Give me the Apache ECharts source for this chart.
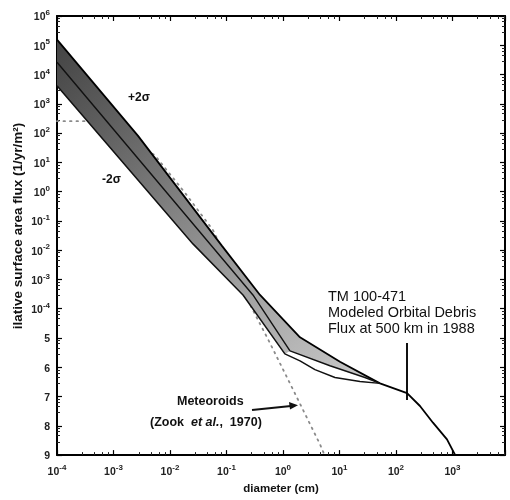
<!DOCTYPE html>
<html><head><meta charset="utf-8">
<script src="https://cdn.jsdelivr.net/npm/echarts@6/dist/echarts.min.js"></script>
<style>html,body{margin:0;padding:0;background:#fff}#c{width:510px;height:500px}</style>
</head><body><div id="c"></div>
<script>
// ---- data (diameter in cm, cumulative flux in 1/yr/m^2) ----
const upperD = [1e-4, 2.72e-3, 0.0832, 0.392, 2.0, 10.2, 52.1];
const upperF = [1.55e5, 80.5, 0.01406, 2.95e-4, 1.06e-5, 1.54e-6, 2.82e-7];
const middleD = [1e-4, 0.294, 1.33, 6.79, 28.2, 52.1];
const middleF = [2.63e4, 2.95e-4, 3.61e-6, 1.13e-6, 4.48e-7, 2.82e-7];
const lowerD = [1e-4, 0.0255, 0.196, 1.08, 2.0, 3.68, 8.32, 23.1, 52.1];
const lowerF = [4.14e3, 0.0164, 2.95e-4, 2.86e-6, 1.66e-6, 8.30e-7, 4.48e-7, 3.29e-7, 2.82e-7];
const tailD = [52.1, 157, 266, 452, 800, 1150];
const tailF = [2.82e-7, 1.30e-7, 4.76e-8, 1.28e-8, 3.44e-9, 9.0e-10];
const meteorD = [1e-4, 3.84e-4, 1.30e-3, 5.43e-3, 0.0184, 0.0577, 0.173, 0.543, 1.33, 4.52, 6.03];
const meteorF = [256, 256, 110, 17.2, 0.912, 0.0484, 6.38e-4, 9.12e-6, 2.82e-7, 2.34e-9, 6.3e-10];

const xTickExp = [-4, -3, -2, -1, 0, 1, 2, 3];
const xTickLabels = ['10^-4', '10^-3', '10^-2', '10^-1', '10^0', '10^1', '10^2', '10^3'];
const yTickExp = [6, 5, 4, 3, 2, 1, 0, -1, -2, -3, -4, -5, -6, -7, -8, -9];
const yTickLabels = ['10^6', '10^5', '10^4', '10^3', '10^2', '10^1', '10^0', '10^-1', '10^-2', '10^-3', '10^-4', '5', '6', '7', '8', '9'];

const zip = (a, b) => a.map((v, i) => [v, b[i]]);
const upper = zip(upperD, upperF);
const middle = zip(middleD, middleF);
const lower = zip(lowerD, lowerF);
const tail = zip(tailD, tailF);
const meteor = zip(meteorD, meteorF);

// band polygon: upper edge, then back along middle (after knee) and lower (before knee)
const kneeMid = 2, kneeLow = 3;
const band = upper.concat(middle.slice(kneeMid, middle.length - 1).reverse(), lower.slice(0, kneeLow + 1).reverse());

function toRich(s) {
  const k = s.indexOf('^');
  return k < 0 ? '{b|' + s + '}' : '{b|' + s.slice(0, k) + '}{s|' + s.slice(k + 1) + '}';
}
function labelFrom(exps, labels) {
  return function (v) {
    const e = Math.log10(v), n = Math.round(e);
    if (Math.abs(e - n) > 0.01) return '';
    const i = exps.indexOf(n);
    return i < 0 ? '' : toRich(labels[i]);
  };
}
const FONT = 'Liberation Sans';
const richLab = {
  b: { fontFamily: FONT, fontSize: 10.5, fontWeight: 'bold', color: '#222', lineHeight: 14, verticalAlign: 'bottom' },
  s: { fontFamily: FONT, fontSize: 8, fontWeight: 'bold', color: '#222', lineHeight: 8, verticalAlign: 'top' }
};
const axisCommon = {
  type: 'log', logBase: 10,
  axisLine: { show: true, onZero: false, lineStyle: { color: '#000', width: 2 } },
  axisTick: { show: true, inside: true, length: 5, lineStyle: { color: '#000', width: 1.2 } },
  minorTick: { show: true, splitNumber: 5, length: 3, lineStyle: { color: '#222' } },
  splitLine: { show: false },
};
const chart = echarts.init(document.getElementById('c'), null, { renderer: 'canvas' });
chart.setOption({
  animation: false,
  backgroundColor: '#fff',
  grid: { left: 57, right: 5, top: 16, bottom: 37 },
  xAxis: [
    Object.assign({}, axisCommon, {
      position: 'bottom', min: 1e-4, max: Math.pow(10, 3.93), interval: 1,
      name: 'diameter (cm)', nameLocation: 'middle', nameGap: 27,
      nameTextStyle: { fontFamily: FONT, fontSize: 11.5, fontWeight: 'bold', color: '#111' },
      axisLabel: { formatter: labelFrom(xTickExp, xTickLabels), margin: 9, rich: richLab }
    }),
    Object.assign({}, axisCommon, {
      position: 'top', min: 1e-4, max: Math.pow(10, 3.93), interval: 1, axisLabel: { show: false }
    })
  ],
  yAxis: [
    Object.assign({}, axisCommon, {
      position: 'left', min: 1e-9, max: 1e6, interval: 1,
      axisLabel: { formatter: labelFrom(yTickExp, yTickLabels), margin: 7, rich: richLab }
    }),
    Object.assign({}, axisCommon, {
      position: 'right', min: 1e-9, max: 1e6, interval: 1, axisLabel: { show: false }
    })
  ],
  series: [
    {
      type: 'line', name: 'Meteoroids', data: meteor, symbol: 'none', z: 1,
      lineStyle: { color: '#8a8a8a', width: 1.8, type: [1.5, 5], cap: 'round' }
    },
    {
      type: 'custom', name: 'band', z: 2, data: [band[0]],
      renderItem: function (params, api) {
        const pts = band.map(p => api.coord(p));
        return {
          type: 'polygon', shape: { points: pts },
          style: {
            fill: new echarts.graphic.LinearGradient(0, 0, 1, 1, [
              { offset: 0, color: '#444444' },
              { offset: 0.25, color: '#666666' },
              { offset: 0.5, color: '#8c8c8c' },
              { offset: 0.75, color: '#adadad' },
              { offset: 1, color: '#cccccc' }
            ]),
            stroke: null
          }
        };
      }
    },
    { type: 'line', name: 'upper', data: upper.concat(tail.slice(1)), symbol: 'none', z: 3, lineStyle: { color: '#000', width: 1.8 } },
    { type: 'line', name: 'middle', data: middle, symbol: 'none', z: 3, lineStyle: { color: '#111', width: 1.4 } },
    { type: 'line', name: 'lower', data: lower, symbol: 'none', z: 3, lineStyle: { color: '#111', width: 1.5 } }
  ],
  graphic: [
    { type: 'text', x: 128, y: 98, style: { text: '+2σ', font: 'bold 12px ' + FONT, fill: '#111', verticalAlign: 'middle' } },
    { type: 'text', x: 102, y: 180, style: { text: '-2σ', font: 'bold 12px ' + FONT, fill: '#111', verticalAlign: 'middle' } },
    { type: 'text', x: 328, y: 289, style: { text: 'TM 100-471\nModeled Orbital Debris\nFlux at 500 km in 1988', font: '14.5px ' + FONT, lineHeight: 16, fill: '#111' } },
    { type: 'line', shape: { x1: 407, y1: 343, x2: 407, y2: 400 }, style: { stroke: '#111', lineWidth: 2 } },
    { type: 'text', x: 177, y: 402, style: { text: 'Meteoroids', font: 'bold 12.5px ' + FONT, fill: '#111', verticalAlign: 'middle' } },
    { type: 'text', x: 150, y: 423, style: {
        text: '{n|(Zook  }{i|et al.}{n|,  1970)}', verticalAlign: 'middle',
        rich: { n: { font: 'bold 12.5px ' + FONT, fill: '#111' }, i: { font: 'italic bold 12.5px ' + FONT, fill: '#111' } } } },
    { type: 'line', shape: { x1: 252, y1: 410, x2: 291, y2: 406 }, style: { stroke: '#111', lineWidth: 2 } },
    { type: 'polygon', shape: { points: [[298, 405.3], [289, 402], [290, 409.5]] }, style: { fill: '#111' } },
    { type: 'text', x: 18, y: 226, rotation: Math.PI / 2, style: { text: 'ilative surface area flux (1/yr/m²)', font: 'bold 13.5px ' + FONT, fill: '#111', align: 'center', verticalAlign: 'middle' } }
  ]
});
</script>
</body></html>
